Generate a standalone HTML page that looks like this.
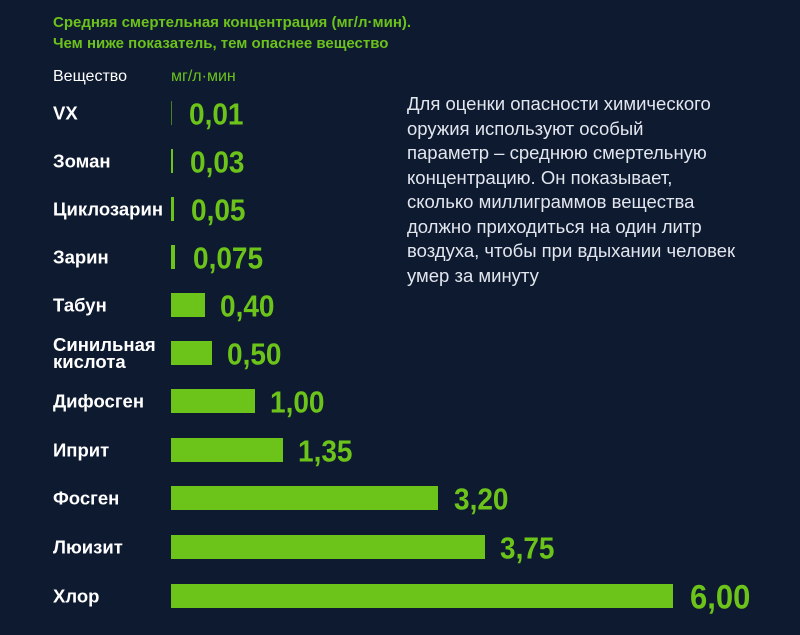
<!DOCTYPE html>
<html><head><meta charset="utf-8"><style>
body{margin:0;width:800px;height:635px;background:#0e1a30;font-family:"Liberation Sans",sans-serif;position:relative;overflow:hidden}
.t{position:absolute;left:53px;top:12px;color:#6cc21c;font-weight:bold;font-size:15px;line-height:21px}
.h{position:absolute;top:68px;font-size:16px;color:#fff}
.l{position:absolute;left:53px;color:#fff;font-weight:bold;font-size:18.5px;line-height:17px;transform:translateY(-50%)}
.b{position:absolute;left:171px;height:24px;background:#6cc41a;transform:translateY(-50%)}
.v{position:absolute;color:#6cc41a;font-weight:bold;font-size:28px;line-height:28px;transform:translateY(-45%) scaleY(1.1)}
.p{position:absolute;left:407px;top:92px;color:#e2e6ee;font-size:18.5px;line-height:24.5px}
</style></head><body>
<div class="t">Средняя смертельная концентрация (мг/л·мин).<br>Чем ниже показатель, тем опаснее вещество</div>
<div class="h" style="left:53px">Вещество</div>
<div class="h" style="left:171px;color:#6cc21c">мг/л·мин</div>
<div class="p">Для оценки опасности химического<br>оружия используют особый<br>параметр – среднюю смертельную<br>концентрацию. Он показывает,<br>сколько миллиграммов вещества<br>должно приходиться на один литр<br>воздуха, чтобы при вдыхании человек<br>умер за минуту</div>

<div class="l" style="top:113px">VX</div><div class="b" style="top:113px;width:1px;opacity:.6"></div><div class="v" style="top:113px;left:189px">0,01</div>
<div class="l" style="top:161px">Зоман</div><div class="b" style="top:161px;width:2px"></div><div class="v" style="top:161px;left:190px">0,03</div>
<div class="l" style="top:209px">Циклозарин</div><div class="b" style="top:209px;width:3px"></div><div class="v" style="top:209px;left:191px">0,05</div>
<div class="l" style="top:257px">Зарин</div><div class="b" style="top:257px;width:4px"></div><div class="v" style="top:257px;left:193px">0,075</div>
<div class="l" style="top:305px">Табун</div><div class="b" style="top:305px;width:34px"></div><div class="v" style="top:305px;left:220px">0,40</div>
<div class="l" style="top:353px">Синильная<br>кислота</div><div class="b" style="top:353px;width:41px"></div><div class="v" style="top:353px;left:227px">0,50</div>
<div class="l" style="top:401px">Дифосген</div><div class="b" style="top:401px;width:84px"></div><div class="v" style="top:401px;left:270px">1,00</div>
<div class="l" style="top:450px">Иприт</div><div class="b" style="top:450px;width:112px"></div><div class="v" style="top:450px;left:298px">1,35</div>
<div class="l" style="top:498px">Фосген</div><div class="b" style="top:498px;width:267px"></div><div class="v" style="top:498px;left:454px">3,20</div>
<div class="l" style="top:547px">Люизит</div><div class="b" style="top:547px;width:314px"></div><div class="v" style="top:547px;left:500px">3,75</div>
<div class="l" style="top:596px">Хлор</div><div class="b" style="top:596px;width:502px"></div><div class="v" style="top:596px;left:690px;font-size:31px">6,00</div>
</body></html>
